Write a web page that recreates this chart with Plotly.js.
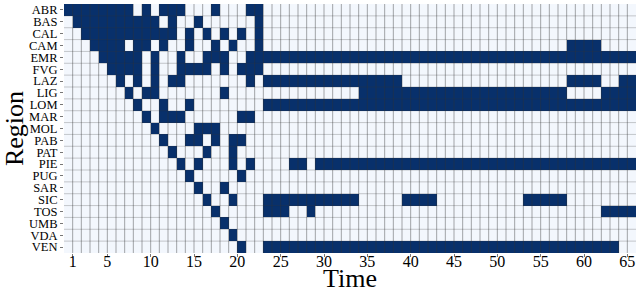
<!DOCTYPE html>
<html>
<head>
<meta charset="utf-8">
<script src="https://cdn.plot.ly/plotly-3.0.1.min.js"></script>
<style>
html,body{margin:0;padding:0;background:#fff;}
#chart{width:640px;height:293px;}
</style>
</head>
<body>
<div id="chart"></div>
<script>
// ---- Data ----
const regions = ["ABR","BAS","CAL","CAM","EMR","FVG","LAZ","LIG","LOM","MAR","MOL",
                 "PAB","PAT","PIE","PUG","SAR","SIC","TOS","UMB","VDA","VEN"];

// active time spans [from, to] (inclusive) per region, same order as regions
const activeSpans = [
  [[1,8],[10,10],[12,14],[18,18],[22,23]],                       // ABR
  [[2,11],[13,13],[16,16],[23,23]],                              // BAS
  [[3,13],[15,15],[17,17],[19,19],[21,21],[23,23]],              // CAL
  [[4,7],[9,10],[12,12],[15,15],[18,18],[20,20],[23,23],[59,62]],// CAM
  [[5,9],[11,11],[14,14],[17,19],[22,66]],                       // EMR
  [[6,9],[11,11],[14,17],[19,19],[21,23]],                       // FVG
  [[7,7],[9,9],[11,11],[13,14],[22,22],[24,39],[59,62],[65,66]], // LAZ
  [[8,8],[10,11],[19,19],[35,58],[63,66]],                       // LIG
  [[9,9],[12,12],[15,15],[24,66]],                               // LOM
  [[10,10],[12,14],[21,22]],                                     // MAR
  [[11,11],[16,18]],                                             // MOL
  [[12,12],[15,16],[18,18],[20,21]],                             // PAB
  [[13,13],[17,17],[20,20]],                                     // PAT
  [[14,14],[16,16],[20,20],[22,22],[27,28],[30,66]],             // PIE
  [[15,15],[21,21]],                                             // PUG
  [[16,16],[19,19]],                                             // SAR
  [[17,17],[20,20],[24,34],[40,43],[54,58]],                     // SIC
  [[18,18],[24,26],[29,29],[63,66]],                             // TOS
  [[19,19]],                                                     // UMB
  [[20,20]],                                                     // VDA
  [[21,21],[24,64]]                                              // VEN
];

const nSteps = 66;
const xTickVals = [1,5,10,15,20,25,30,35,40,45,50,55,60,65];
const xTickText = ["1","5","10","15","20","25","30","35","40","45","50","55","60","65"];

// ---- Build matrix ----
const z = regions.map((r, i) => {
  const row = new Array(nSteps).fill(0);
  activeSpans[i].forEach(([a, b]) => { for (let t = a; t <= b; t++) row[t - 1] = 1; });
  return row;
});

const trace = {
  type: 'heatmap',
  z: z,
  x0: 0.5, dx: 1,
  y0: 0, dy: 1,
  colorscale: [[0, '#f3f7fd'], [1, '#08306b']],
  zmin: 0, zmax: 1,
  showscale: false,
  hoverinfo: 'skip'
};

// cell border lines drawn above the heatmap
const shapes = [];
for (let k = 1; k < nSteps; k++) {
  shapes.push({type:'line', xref:'x', yref:'paper', x0:k, x1:k, y0:0, y1:1,
    layer:'above', line:{color:'rgba(50,50,50,0.42)', width:1}});
}
for (let i = 1; i < regions.length; i++) {
  shapes.push({type:'line', xref:'paper', yref:'y', x0:0, x1:1, y0:i-0.5, y1:i-0.5,
    layer:'above', line:{color:'rgba(50,50,50,0.25)', width:1}});
}

const layout = {
  width: 640, height: 293,
  margin: {l: 64, r: 4, t: 4, b: 40, pad: 0},
  paper_bgcolor: '#ffffff',
  plot_bgcolor: '#ffffff',
  font: {family: '"Liberation Serif", "Times New Roman", serif', color: '#000'},
  showlegend: false,
  shapes: shapes,
  xaxis: {
    range: [0, nSteps],
    tickmode: 'array', tickvals: xTickVals, ticktext: xTickText,
    ticks: 'outside', ticklen: 3, tickwidth: 1, tickcolor: '#777',
    tickfont: {size: 16},
    ticklabelstandoff: -9,
    showgrid: false, zeroline: false, showline: false,
    automargin: false,
    title: {text: 'Time', font: {size: 26}, standoff: 24}
  },
  yaxis: {
    range: [regions.length - 0.5, -0.5],
    tickmode: 'array', tickvals: regions.map((_, i) => i), ticktext: regions,
    ticks: 'outside', ticklen: 3, tickwidth: 1, tickcolor: '#777',
    tickfont: {size: 12.5},
    showgrid: false, zeroline: false, showline: false,
    automargin: false,
    title: {text: 'Region', font: {size: 26}, standoff: 4}
  }
};

Plotly.newPlot('chart', [trace], layout, {displayModeBar: false, staticPlot: true});
</script>
</body>
</html>
